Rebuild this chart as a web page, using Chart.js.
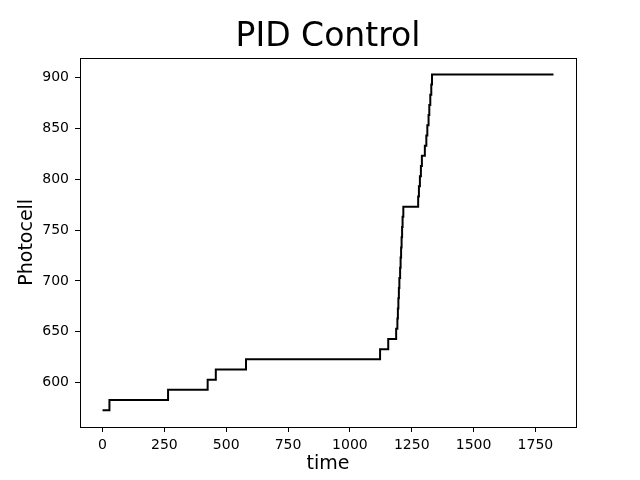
<!DOCTYPE html>
<html>
<head>
<meta charset="utf-8">
<script src="https://cdn.jsdelivr.net/npm/chart.js@4/dist/chart.umd.min.js"></script>
<style>
  html, body { margin: 0; padding: 0; background: #fff; }
</style>
</head>
<body>
<canvas id="grafico" width="640" height="480"></canvas>
<script>
// tiempos (ms) y lectura de la fotocelda
const tiempos = [0, 28, 265, 425, 458, 580, 1122, 1155, 1187,
    1192, 1194, 1196, 1198, 1200, 1203, 1205, 1207, 1209, 1211, 1213, 1216,
    1276, 1279, 1283, 1287, 1291, 1303, 1309, 1313, 1318, 1321, 1325, 1329, 1332, 1823];
const fotocelda = [573, 583, 593, 603, 613, 623, 633, 643, 653,
    663, 673, 683, 693, 703, 713, 723, 733, 743, 753, 763, 773,
    783, 793, 803, 813, 823, 833, 843, 853, 863, 873, 883, 893, 903, 903];

const xTicks = [0, 250, 500, 750, 1000, 1250, 1500, 1750];
const yTicks = [600, 650, 700, 750, 800, 850, 900];

const fuente = 'DejaVu Sans';

const marco = {
    id: 'marco',
    afterDraw(chart) {
        const { ctx, chartArea: a } = chart;
        ctx.save();
        ctx.strokeStyle = '#000';
        ctx.lineWidth = 1;
        ctx.strokeRect(Math.round(a.left) + 0.5, Math.round(a.top) + 0.5,
            Math.round(a.right - a.left), Math.round(a.bottom - a.top));
        ctx.restore();
    }
};

const ejeComun = {
    grid: { display: true, drawOnChartArea: false, drawTicks: true, tickLength: 5, color: '#000', lineWidth: 1 },
    border: { display: false },
};

new Chart(document.getElementById('grafico'), {
    type: 'line',
    data: {
        datasets: [{
            data: tiempos.map((t, i) => ({ x: t, y: fotocelda[i] })),
            borderColor: '#000',
            borderWidth: 2,
            pointRadius: 0,
            stepped: 'before',
            fill: false,
        }]
    },
    options: {
        responsive: false,
        animation: false,
        layout: { padding: { left: 16, right: 0, top: 0, bottom: 0 } },
        plugins: {
            legend: { display: false },
            tooltip: { enabled: false },
            title: {
                display: true,
                text: 'PID Control',
                color: '#000',
                font: { family: fuente, size: 33, weight: 'normal' },
                padding: { top: 18, bottom: 0 }
            }
        },
        scales: {
            x: {
                ...ejeComun,
                type: 'linear',
                min: -91,
                max: 1914,
                afterBuildTicks: (s) => { s.ticks = xTicks.map(v => ({ value: v })); },
                afterFit: (s) => { s.height = 53; },
                ticks: { color: '#000', font: { family: fuente, size: 14 }, padding: 5, maxRotation: 0, callback: (v) => String(v) },
                title: { display: true, text: 'time', color: '#000', font: { family: fuente, size: 19 }, padding: { top: 0, bottom: 5 } }
            },
            y: {
                ...ejeComun,
                min: 556.5,
                max: 919.5,
                afterBuildTicks: (s) => { s.ticks = yTicks.map(v => ({ value: v })); },
                afterFit: (s) => { s.width = 64; },
                ticks: { color: '#000', font: { family: fuente, size: 14 }, padding: 6, callback: (v) => String(v) },
                title: { display: true, text: 'Photocell', color: '#000', font: { family: fuente, size: 19 }, padding: { top: 0, bottom: 0 } }
            },
            derecha: {
                type: 'linear',
                position: 'right',
                display: true,
                grid: { display: false },
                border: { display: false },
                ticks: { display: false },
                afterFit: (s) => { s.width = 64; }
            }
        }
    },
    plugins: [marco]
});
</script>
</body>
</html>
